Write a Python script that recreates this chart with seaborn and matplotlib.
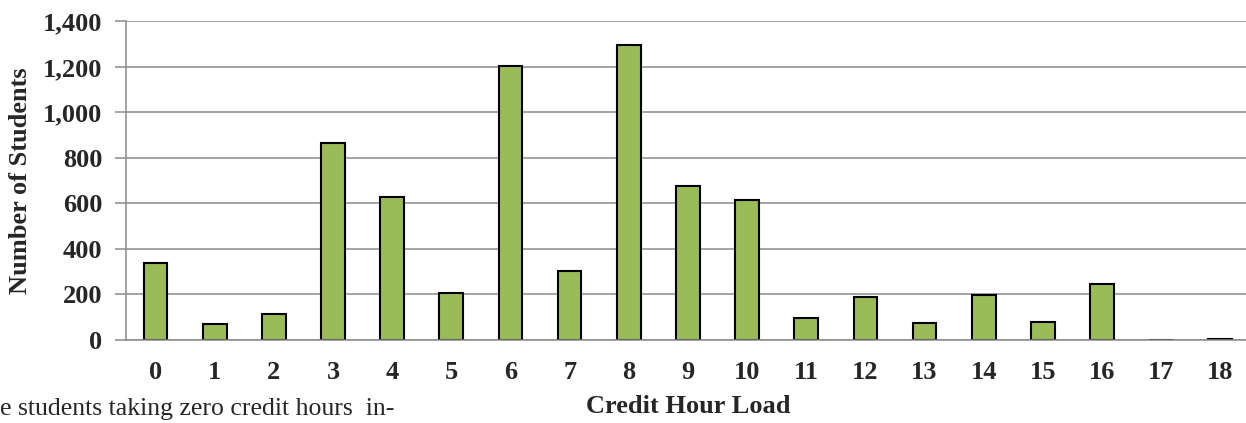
import matplotlib
matplotlib.use("Agg")
import matplotlib.pyplot as plt
import seaborn as sns
import pandas as pd
import numpy as np

credit_hours = [str(i) for i in range(19)]
students = [337, 70, 114, 867, 630, 206, 1202, 302, 1298, 675, 617, 97, 190, 76, 199, 80, 247, 2, 4]
y_ticks = [0, 200, 400, 600, 800, 1000, 1200, 1400]
y_tick_labels = ["0", "200", "400", "600", "800", "1,000", "1,200", "1,400"]
caption = "e students taking zero credit hours  in-"

df = pd.DataFrame({"hours": credit_hours, "students": students})

sns.set_style("white")
plt.rcParams["font.family"] = ["Liberation Serif", "DejaVu Serif"]

fig = plt.figure(figsize=(12.46, 4.23), dpi=100)
ax = fig.add_axes([0.1011, 0.1962, 0.902, 0.7534])

grid_col = "#8a8a8a"
ax.set_axisbelow(True)
ax.yaxis.grid(True, color=grid_col, linewidth=1.1)

sns.barplot(data=df, x="hours", y="students", order=credit_hours, color="#9BBB59",
            saturation=1, width=0.4, edgecolor="black", linewidth=1.5, ax=ax)

ax.set_xlim(-0.5, 18.5)
ax.set_ylim(0, 1400)
ax.set_yticks(y_ticks)
ax.set_yticklabels(y_tick_labels, fontsize=19, fontweight="bold")
ax.set_xticks(range(19))
ax.set_xticklabels(credit_hours, fontsize=19, fontweight="bold")
ax.set_xticks(np.arange(-0.5, 19, 1), minor=True)
ax.tick_params(axis="x", which="major", length=0, pad=15)
ax.tick_params(axis="x", which="minor", length=8, width=1.1, color=grid_col, direction="out")
ax.tick_params(axis="y", length=8, width=1.1, color=grid_col, direction="out", pad=9, left=True)

for side in ["top", "right"]:
    ax.spines[side].set_visible(False)
for side in ["left", "bottom"]:
    ax.spines[side].set_color(grid_col)
    ax.spines[side].set_linewidth(1.1)

ax.set_xlabel("Credit Hour Load", fontsize=19, fontweight="bold", labelpad=8)
ax.set_ylabel("Number of Students", fontsize=19, fontweight="bold", labelpad=8)

fig.text(0.0, 0.008, caption, fontsize=18.5, ha="left", va="bottom")

fig.savefig("out.png", dpi=100)
